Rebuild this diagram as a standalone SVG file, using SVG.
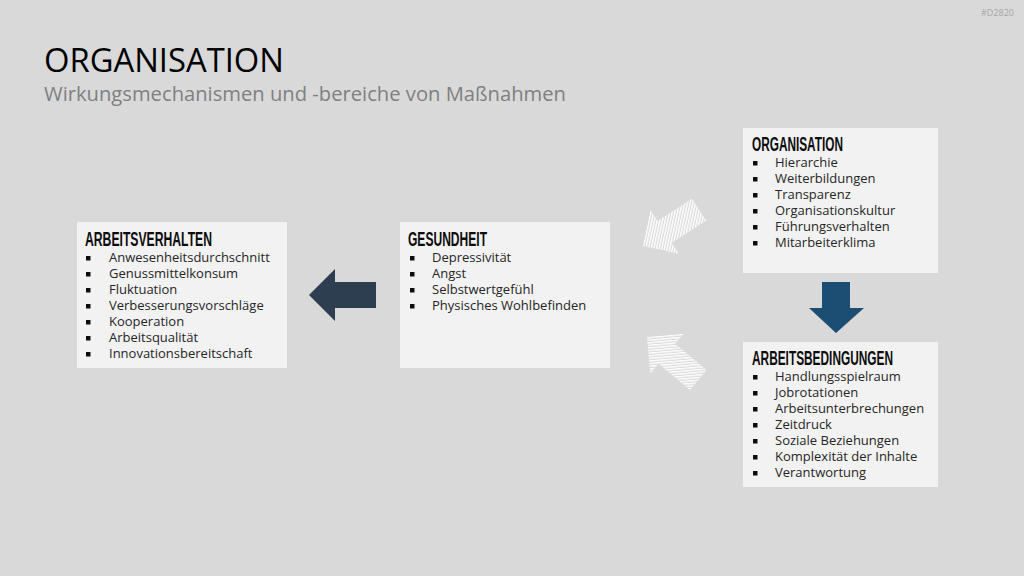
<svg xmlns="http://www.w3.org/2000/svg" width="1024" height="576" viewBox="0 0 1024 576">
  <style>
    .bg { fill: #D9D9D9; }
    .box { fill: #F2F2F2; }
    .title { font-family: "Open Sans", "Liberation Sans", sans-serif; font-size: 33px; font-weight: 400; fill: #000000; }
    .sub { font-family: "Open Sans", "Liberation Sans", sans-serif; font-size: 20px; fill: #808080; }
    .tag { font-family: "Open Sans", "Liberation Sans", sans-serif; font-size: 9px; fill: #A6A6A6; }
    .head { font-family: "Liberation Sans Narrow", "Liberation Sans", "DejaVu Sans Condensed", sans-serif; font-size: 19.5px; font-weight: 700; fill: #0D0D0D; }
    .item { font-family: "Open Sans", "Liberation Sans", sans-serif; font-size: 13px; fill: #262626; }
    .bullet { fill: #0D0D0D; }
  </style>
  <defs>
    <pattern id="hatch" patternUnits="userSpaceOnUse" width="2.6" height="2.6" patternTransform="rotate(45)">
      <rect x="0" y="0" width="1.4" height="2.6" fill="#FFFFFF"/>
    </pattern>
    <path id="arrowL" d="M0,0 L26,-26 L26,-13 L67,-13 L67,13 L26,13 L26,26 Z"/>
  </defs>

  <rect class="bg" x="0" y="0" width="1024" height="576"/>

  <text class="tag" x="981" y="16">#D2820</text>
  <text class="title" x="44" y="72" textLength="240" lengthAdjust="spacingAndGlyphs">ORGANISATION</text>
  <text class="sub" x="44" y="101" textLength="522" lengthAdjust="spacingAndGlyphs">Wirkungsmechanismen und -bereiche von Maßnahmen</text>

  <g id="connectors">
    <use href="#arrowL" transform="translate(309,295)" fill="#2C3E50"/>
    <path d="M822,282 L850,282 L850,308 L864,308 L836,333 L809,308 L822,308 Z" fill="#1C4E74"/>
    <use href="#arrowL" transform="translate(643,246) rotate(-33)" fill="url(#hatch)"/>
    <use href="#arrowL" transform="translate(647,337) rotate(40)" fill="url(#hatch)"/>
  </g>

  <g id="arbeitsverhalten">
    <rect class="box" x="77" y="222" width="210" height="146"/>
    <text class="head" x="85" y="246" textLength="127" lengthAdjust="spacingAndGlyphs">ARBEITSVERHALTEN</text>
    <rect class="bullet" x="86" y="256" width="4.5" height="4.5"/>
    <rect class="bullet" x="86" y="272" width="4.5" height="4.5"/>
    <rect class="bullet" x="86" y="288" width="4.5" height="4.5"/>
    <rect class="bullet" x="86" y="304" width="4.5" height="4.5"/>
    <rect class="bullet" x="86" y="320" width="4.5" height="4.5"/>
    <rect class="bullet" x="86" y="336" width="4.5" height="4.5"/>
    <rect class="bullet" x="86" y="352" width="4.5" height="4.5"/>
    <text class="item" x="109" y="262">Anwesenheitsdurchschnitt</text>
    <text class="item" x="109" y="278">Genussmittelkonsum</text>
    <text class="item" x="109" y="294">Fluktuation</text>
    <text class="item" x="109" y="310">Verbesserungsvorschläge</text>
    <text class="item" x="109" y="326">Kooperation</text>
    <text class="item" x="109" y="342">Arbeitsqualität</text>
    <text class="item" x="109" y="358">Innovationsbereitschaft</text>
  </g>

  <g id="gesundheit">
    <rect class="box" x="400" y="222" width="210" height="146"/>
    <text class="head" x="408" y="246" textLength="79" lengthAdjust="spacingAndGlyphs">GESUNDHEIT</text>
    <rect class="bullet" x="410" y="256" width="4.5" height="4.5"/>
    <rect class="bullet" x="410" y="272" width="4.5" height="4.5"/>
    <rect class="bullet" x="410" y="288" width="4.5" height="4.5"/>
    <rect class="bullet" x="410" y="304" width="4.5" height="4.5"/>
    <text class="item" x="432" y="262">Depressivität</text>
    <text class="item" x="432" y="278">Angst</text>
    <text class="item" x="432" y="294">Selbstwertgefühl</text>
    <text class="item" x="432" y="310">Physisches Wohlbefinden</text>
  </g>

  <g id="organisation">
    <rect class="box" x="743" y="128" width="195" height="145"/>
    <text class="head" x="752" y="151" textLength="91" lengthAdjust="spacingAndGlyphs">ORGANISATION</text>
    <rect class="bullet" x="753" y="161" width="4.5" height="4.5"/>
    <rect class="bullet" x="753" y="177" width="4.5" height="4.5"/>
    <rect class="bullet" x="753" y="193" width="4.5" height="4.5"/>
    <rect class="bullet" x="753" y="209" width="4.5" height="4.5"/>
    <rect class="bullet" x="753" y="225" width="4.5" height="4.5"/>
    <rect class="bullet" x="753" y="241" width="4.5" height="4.5"/>
    <text class="item" x="775" y="167">Hierarchie</text>
    <text class="item" x="775" y="183">Weiterbildungen</text>
    <text class="item" x="775" y="199">Transparenz</text>
    <text class="item" x="775" y="215">Organisationskultur</text>
    <text class="item" x="775" y="231">Führungsverhalten</text>
    <text class="item" x="775" y="247">Mitarbeiterklima</text>
  </g>

  <g id="arbeitsbedingungen">
    <rect class="box" x="743" y="342" width="195" height="145"/>
    <text class="head" x="752" y="365" textLength="141" lengthAdjust="spacingAndGlyphs">ARBEITSBEDINGUNGEN</text>
    <rect class="bullet" x="753" y="375" width="4.5" height="4.5"/>
    <rect class="bullet" x="753" y="391" width="4.5" height="4.5"/>
    <rect class="bullet" x="753" y="407" width="4.5" height="4.5"/>
    <rect class="bullet" x="753" y="423" width="4.5" height="4.5"/>
    <rect class="bullet" x="753" y="439" width="4.5" height="4.5"/>
    <rect class="bullet" x="753" y="455" width="4.5" height="4.5"/>
    <rect class="bullet" x="753" y="471" width="4.5" height="4.5"/>
    <text class="item" x="775" y="381">Handlungsspielraum</text>
    <text class="item" x="775" y="397">Jobrotationen</text>
    <text class="item" x="775" y="413">Arbeitsunterbrechungen</text>
    <text class="item" x="775" y="429">Zeitdruck</text>
    <text class="item" x="775" y="445">Soziale Beziehungen</text>
    <text class="item" x="775" y="461">Komplexität der Inhalte</text>
    <text class="item" x="775" y="477">Verantwortung</text>
  </g>
</svg>
